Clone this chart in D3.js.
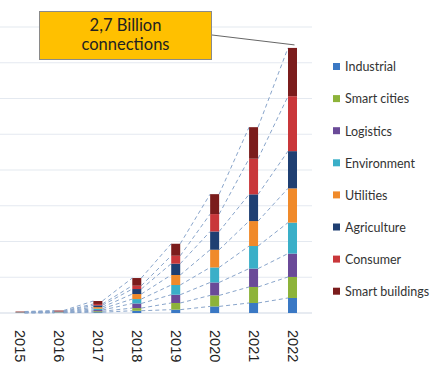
<!DOCTYPE html>
<html><head><meta charset="utf-8">
<script src="https://cdn.jsdelivr.net/npm/d3@7"></script>
<style>body{margin:0;background:#fff;}svg{display:block;}</style>
</head><body>
<script>
const years = ["2015","2016","2017","2018","2019","2020","2021","2022"];
const categories = ["Industrial","Smart cities","Logistics","Environment","Utilities","Agriculture","Consumer","Smart buildings"];
const colors = ["#3a78c4","#8db33a","#6a4a98","#3aafc8","#f08a2a","#1f3f72","#c9373a","#7b1c1c"];
// values in millions of connections, per category, one per year
const industrial     = [1, 2, 8, 23, 34, 67, 102, 153];
const smartCities    = [1, 2, 10, 27, 68, 112, 163, 214];
const logistics      = [1, 2, 12, 47, 84, 132, 187, 238];
const environment    = [2, 3, 14, 45, 99, 153, 230, 315];
const utilities      = [2, 3, 16, 51, 102, 180, 254, 349];
const agriculture    = [2, 4, 18, 51, 115, 186, 272, 379];
const consumer       = [2, 4, 14, 34, 81, 177, 363, 559];
const smartBuildings = [4, 5, 30, 78, 122, 203, 321, 492];
const gridTicks = [0, 364, 728, 1092, 1456, 1820, 2184, 2548, 2912];
const annotationLines = ["2,7 Billion", "connections"];

const series = [industrial, smartCities, logistics, environment, utilities, agriculture, consumer, smartBuildings];
const W = 436, H = 371;
const svg = d3.select("body").append("svg").attr("width", W).attr("height", H);

const x = d3.scalePoint().domain(years).range([20, 292.5]);
const y = d3.scaleLinear().domain([0, 2912]).range([313, 27]);
const barW = 9;

// gridlines
svg.append("g").selectAll("line").data(gridTicks).join("line")
  .attr("x1", 0).attr("x2", 312)
  .attr("y1", d => y(d)).attr("y2", d => y(d))
  .attr("stroke", d => d === 0 ? "#d0d8e4" : "#e4e9f0").attr("stroke-width", 1.2);

// stack
const table = years.map((yr, i) => {
  const o = {year: yr};
  categories.forEach((c, k) => o[c] = series[k][i]);
  return o;
});
const stack = d3.stack().keys(categories)(table);

// series lines (dashed connectors)
const lineG = svg.append("g");
stack.forEach(layer => {
  for (let i = 0; i < years.length - 1; i++) {
    lineG.append("line")
      .attr("x1", x(years[i]) + barW / 2).attr("y1", y(layer[i][1]))
      .attr("x2", x(years[i + 1]) - barW / 2).attr("y2", y(layer[i + 1][1]))
      .attr("stroke", "#89a5cb").attr("stroke-width", 1)
      .attr("stroke-dasharray", "4,3");
  }
});

// bars
svg.append("g").selectAll("g").data(stack).join("g")
  .attr("fill", (d, k) => colors[k])
  .selectAll("rect").data(d => d).join("rect")
  .attr("x", d => x(d.data.year) - barW / 2)
  .attr("width", barW)
  .attr("y", d => y(d[1]))
  .attr("height", d => Math.max(0, y(d[0]) - y(d[1])));

// year labels rotated
svg.append("g").selectAll("text").data(years).join("text")
  .attr("transform", d => `translate(${x(d) - 5},330) rotate(90)`)
  .attr("font-family", "Liberation Sans, Arial, sans-serif")
  .attr("font-size", 14.5).attr("fill", "#222")
  .attr("text-anchor", "start")
  .text(d => d);

// annotation
const total2022 = d3.sum(series, s => s[s.length - 1]);
svg.append("line").attr("x1", 212).attr("y1", 35)
  .attr("x2", x("2022") + 2).attr("y2", y(total2022) - 3)
  .attr("stroke", "#555").attr("stroke-width", 0.9);
svg.append("rect").attr("x", 39.5).attr("y", 11.5).attr("width", 172).attr("height", 48)
  .attr("fill", "#ffc000").attr("stroke", "#8a8a8a").attr("stroke-width", 1);
svg.append("g").selectAll("text").data(annotationLines).join("text")
  .attr("x", 125.5).attr("y", (d, i) => 31 + i * 19)
  .attr("text-anchor", "middle")
  .attr("font-family", "Lato, Open Sans, sans-serif").attr("font-size", 16.5).attr("fill", "#222")
  .text(d => d);

// legend
const lg = svg.append("g").selectAll("g").data(categories).join("g")
  .attr("transform", (d, i) => `translate(333,${67 + i * 32.1})`);
lg.append("rect").attr("x", 0).attr("y", -4).attr("width", 7).attr("height", 7)
  .attr("fill", (d, i) => colors[i]);
lg.append("text").attr("x", 12).attr("y", 0).attr("dy", "0.35em")
  .attr("font-family", "Lato, Open Sans, sans-serif").attr("font-size", 12.5).attr("fill", "#333")
  .text(d => d);
</script>
</body></html>
